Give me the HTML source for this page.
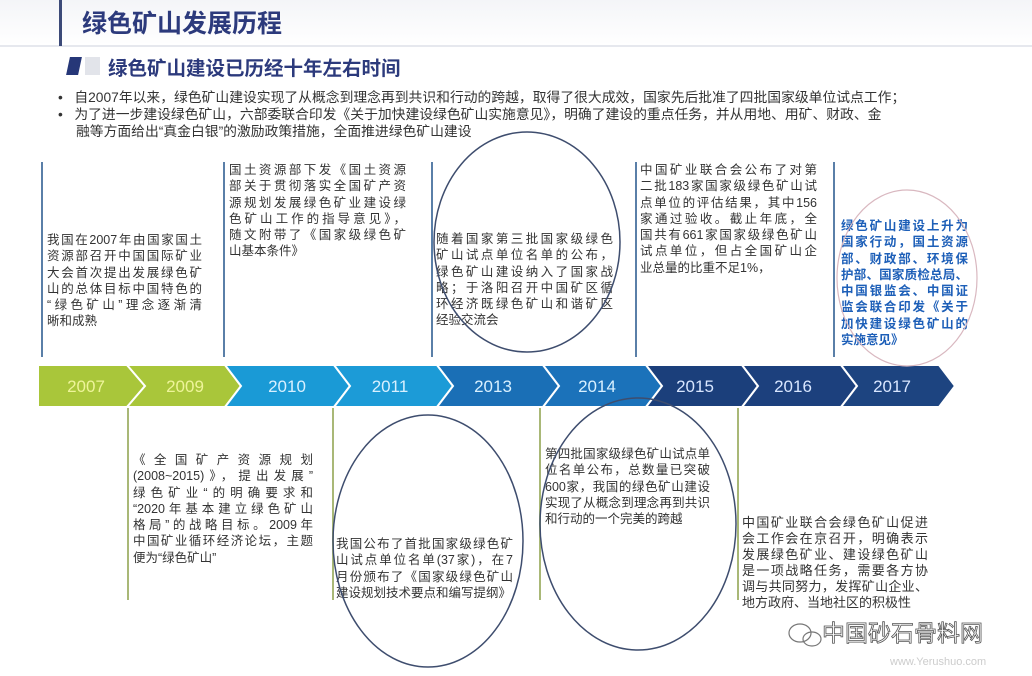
<!DOCTYPE html>
<html><head><meta charset="utf-8">
<style>
html,body{margin:0;padding:0;background:#fff;}
body{width:1032px;height:676px;position:relative;overflow:hidden;font-family:"Liberation Sans","Noto Sans CJK SC",sans-serif;}
.a{position:absolute;}
.t{position:absolute;font-size:12.5px;line-height:16.3px;color:#333;font-family:"Liberation Sans","Noto Sans CJK SC",sans-serif;}
.t div{white-space:nowrap;text-align:justify;text-align-last:justify;}
.t div.l{text-align-last:left;}
.vl{position:absolute;width:2px;background:#5a7fa8;}
.gl{position:absolute;width:2px;background:#a9b877;}
.b{position:absolute;font-size:13.8px;line-height:17px;color:#333;white-space:nowrap;}
</style></head><body>
<div class="a" style="left:0;top:0;width:1032px;height:45px;background:linear-gradient(#f4f5f8,#fff);"></div>
<div class="a" style="left:0;top:45px;width:1032px;height:2px;background:#e6e8ee;"></div>
<div class="a" style="left:59px;top:0;width:3px;height:46px;background:#3c4a78;"></div>
<div class="a" style="left:82px;top:4px;font-size:25px;font-weight:bold;color:#2c3a7c;">绿色矿山发展历程</div>
<div class="a" style="left:68px;top:57px;width:12px;height:18px;background:#263778;transform:skewX(-12deg);"></div>
<div class="a" style="left:85px;top:57px;width:15px;height:18px;background:#e2e4ea;"></div>
<div class="a" style="left:108px;top:52px;font-size:19.5px;font-weight:bold;color:#2c3a7c;">绿色矿山建设已历经十年左右时间</div>
<div class="b" style="left:58px;top:89px;">•&nbsp;&nbsp;&nbsp;自2007年以来，绿色矿山建设实现了从概念到理念再到共识和行动的跨越，取得了很大成效，国家先后批准了四批国家级单位试点工作；</div>
<div class="b" style="left:58px;top:106px;">•&nbsp;&nbsp;&nbsp;为了进一步建设绿色矿山，六部委联合印发《关于加快建设绿色矿山实施意见》，明确了建设的重点任务，并从用地、用矿、财政、金</div>
<div class="b" style="left:76px;top:123px;">融等方面给出“真金白银”的激励政策措施，全面推进绿色矿山建设</div>

<div class="vl" style="left:41px;top:162px;height:195px;"></div>
<div class="vl" style="left:223px;top:162px;height:195px;"></div>
<div class="vl" style="left:431px;top:162px;height:195px;"></div>
<div class="vl" style="left:635px;top:162px;height:195px;"></div>
<div class="vl" style="left:833px;top:162px;height:195px;"></div>

<div class="t" style="left:47px;top:232px;width:155px;">
<div>我国在2007年由国家国土</div><div>资源部召开中国国际矿业</div><div>大会首次提出发展绿色矿</div><div>山的总体目标中国特色的</div><div>“绿色矿山”理念逐渐清</div><div class="l">晰和成熟</div></div>
<div class="t" style="left:229px;top:162px;width:177px;">
<div>国土资源部下发《国土资源</div><div>部关于贯彻落实全国矿产资</div><div>源规划发展绿色矿业建设绿</div><div>色矿山工作的指导意见》，</div><div>随文附带了《国家级绿色矿</div><div class="l">山基本条件》</div></div>
<div class="t" style="left:436px;top:231px;width:177px;">
<div>随着国家第三批国家级绿色</div><div>矿山试点单位名单的公布，</div><div>绿色矿山建设纳入了国家战</div><div>略；于洛阳召开中国矿区循</div><div>环经济既绿色矿山和谐矿区</div><div class="l">经验交流会</div></div>
<div class="t" style="left:640px;top:162px;width:177px;">
<div>中国矿业联合会公布了对第</div><div>二批183家国家级绿色矿山试</div><div>点单位的评估结果，其中156</div><div>家通过验收。截止年底，全</div><div>国共有661家国家级绿色矿山</div><div>试点单位，但占全国矿山企</div><div class="l">业总量的比重不足1%，</div></div>
<div class="t" style="left:841px;top:218px;width:127px;color:#1d5fb8;font-weight:bold;">
<div>绿色矿山建设上升为</div><div>国家行动，国土资源</div><div>部、财政部、环境保</div><div>护部、国家质检总局、</div><div>中国银监会、中国证</div><div>监会联合印发《关于</div><div>加快建设绿色矿山的</div><div class="l">实施意见》</div></div>

<div class="gl" style="left:127px;top:408px;height:192px;"></div>
<div class="gl" style="left:332px;top:408px;height:192px;"></div>
<div class="gl" style="left:539px;top:408px;height:192px;"></div>
<div class="gl" style="left:737px;top:408px;height:192px;"></div>

<div class="t" style="left:133px;top:452px;width:180px;">
<div>《全国矿产资源规划</div><div>(2008~2015)》，提出发展”</div><div>绿色矿业“的明确要求和</div><div>“2020年基本建立绿色矿山</div><div>格局”的战略目标。2009年</div><div>中国矿业循环经济论坛，主题</div><div class="l">便为“绿色矿山”</div></div>
<div class="t" style="left:336px;top:536px;width:177px;">
<div>我国公布了首批国家级绿色矿</div><div>山试点单位名单(37家)，在7</div><div>月份颁布了《国家级绿色矿山</div><div class="l">建设规划技术要点和编写提纲》</div></div>
<div class="t" style="left:545px;top:446px;width:165px;">
<div>第四批国家级绿色矿山试点单</div><div>位名单公布，总数量已突破</div><div>600家，我国的绿色矿山建设</div><div>实现了从概念到理念再到共识</div><div class="l">和行动的一个完美的跨越</div></div>
<div class="t" style="left:742px;top:515px;width:186px;font-size:13px;line-height:16px;">
<div>中国矿业联合会绿色矿山促进</div><div>会工作会在京召开，明确表示</div><div>发展绿色矿业、建设绿色矿山</div><div>是一项战略任务，需要各方协</div><div>调与共同努力，发挥矿山企业、</div><div class="l">地方政府、当地社区的积极性</div></div>

<svg class="a" style="left:0;top:0" width="1032" height="676">
<g stroke="#fff" stroke-width="2">
<polygon points="38,365 127,365 145,386 127,407 38,407" fill="#a9c63a"/>
<polygon points="127,365 225,365 241,386 225,407 127,407 145,386" fill="#a9c63a"/>
<polygon points="225,365 334,365 350,386 334,407 225,407 241,386" fill="#1a9ad6"/>
<polygon points="334,365 437,365 453,386 437,407 334,407 350,386" fill="#1c9bd7"/>
<polygon points="437,365 543,365 559,386 543,407 437,407 453,386" fill="#1a6fb6"/>
<polygon points="543,365 646,365 662,386 646,407 543,407 559,386" fill="#1b72ba"/>
<polygon points="646,365 742,365 758,386 742,407 646,407 662,386" fill="#1b3f7b"/>
<polygon points="742,365 841,365 857,386 841,407 742,407 758,386" fill="#1c407d"/>
<polygon points="841,365 939,365 955,386 939,407 841,407 857,386" fill="#1d4480"/>
</g>
<g font-family="Liberation Sans,sans-serif" font-size="17" text-anchor="middle">
<text x="86" y="392" fill="#eef49a">2007</text>
<text x="185" y="392" fill="#eef49a">2009</text>
<text x="287" y="392" fill="#d8f0ff">2010</text>
<text x="390" y="392" fill="#d8f0ff">2011</text>
<text x="493" y="392" fill="#d8f0ff">2013</text>
<text x="597" y="392" fill="#d8f0ff">2014</text>
<text x="695" y="392" fill="#d8e6ff">2015</text>
<text x="793" y="392" fill="#d8e6ff">2016</text>
<text x="892" y="392" fill="#d8e6ff">2017</text>
</g>
<g fill="none" stroke="#3e4d6e" stroke-width="1.5">
<ellipse cx="527" cy="242" rx="93" ry="110"/>
<ellipse cx="428" cy="541" rx="95" ry="126"/>
<ellipse cx="638" cy="524" rx="98" ry="126"/>
</g>
<ellipse cx="907" cy="278" rx="70" ry="88" fill="none" stroke="#d9b8c0" stroke-width="1.2"/>
<g fill="none" stroke="#777" stroke-width="1.2">
<ellipse cx="800" cy="633" rx="11" ry="9"/>
<ellipse cx="812" cy="639" rx="9" ry="7"/>
</g>
<text x="822" y="641" font-family="Noto Sans CJK SC,sans-serif" font-size="23" fill="#fff" stroke="#555" stroke-width="0.8">中国砂石骨料网</text>
<text x="890" y="665" font-family="Liberation Sans,sans-serif" font-size="11" fill="#ccc">www.Yerushuo.com</text>
</svg>
</body></html>
